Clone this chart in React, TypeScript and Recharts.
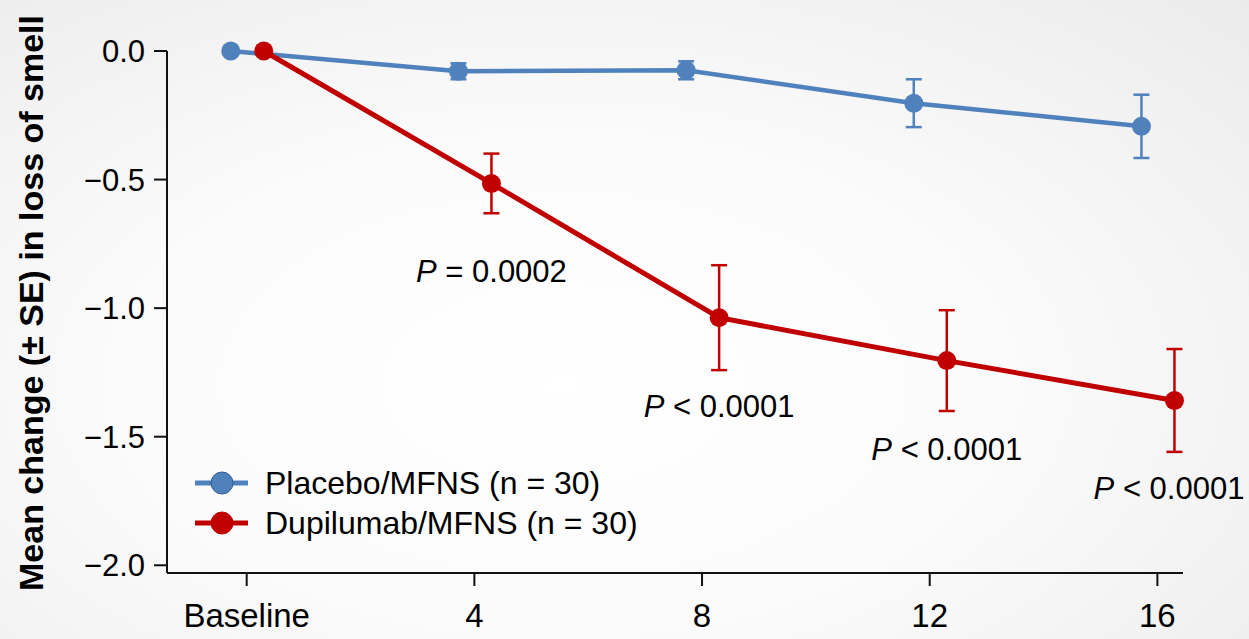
import { LineChart, Line, XAxis, YAxis, ErrorBar, LabelList, Legend } from 'recharts'

// weeks of treatment
const weeks = [0, 4, 8, 12, 16]
const xTicks = [0, 4, 8, 12, 16]
const yTicks = [0, -0.5, -1, -1.5, -2]

const placeboMean = [0, -0.079, -0.075, -0.203, -0.293]
const placeboSE = [0, 0.031, 0.035, 0.093, 0.123]

const dupiMean = [0, -0.515, -1.037, -1.204, -1.359]
const dupiSE = [0, 0.116, 0.204, 0.196, 0.2]
const dupiP = ['', '= 0.0002', '< 0.0001', '< 0.0001', '< 0.0001']

const BLUE = '#4F81BD'
const RED = '#C00000'
const FONT = '"Liberation Sans", Arial, sans-serif'
const W = 1249
const H = 639

const placeboData = weeks.map((w, i) => ({ x: w - 0.28, y: placeboMean[i], se: placeboSE[i] }))
const dupiData = weeks.map((w, i) => ({ x: w + 0.3, y: dupiMean[i], se: dupiSE[i], p: dupiP[i] }))

const fmtY = (v: number) => (v === 0 ? '0.0' : '\u2212' + Math.abs(v).toFixed(1))
const fmtX = (v: number) => (v === 0 ? 'Baseline' : String(v))

const PLabel = (props: any) => {
  const { x, y, value } = props
  if (!value) return null
  // keep the last label inside the picture
  const cx = Math.min(x, W - 80)
  return (
    <text x={cx} y={y + 99} textAnchor="middle" fontSize={31} fontFamily={FONT} fill="#000">
      <tspan fontStyle="italic">P</tspan>
      <tspan> {value}</tspan>
    </text>
  )
}

const legendItems = [
  { name: 'Placebo/MFNS (n = 30)', color: BLUE, edge: '#2f5d8e' },
  { name: 'Dupilumab/MFNS (n = 30)', color: RED, edge: RED },
]

const renderLegend = () => (
  <div style={{ fontFamily: FONT, fontSize: 32, color: '#000' }}>
    {legendItems.map((it) => (
      <div key={it.name} style={{ display: 'flex', alignItems: 'center', height: 40, lineHeight: '40px', whiteSpace: 'nowrap' }}>
        <svg width={57} height={30}>
          <line x1={2} y1={15} x2={55} y2={15} stroke={it.color} strokeWidth={5} />
          <circle cx={29} cy={15} r={11} fill={it.color} stroke={it.edge} strokeWidth={1} />
        </svg>
        <span style={{ marginLeft: 15 }}>{it.name}</span>
      </div>
    ))}
  </div>
)

export default function App() {
  return (
    <div
      style={{
        position: 'absolute',
        left: 0,
        top: 0,
        width: W,
        height: H,
        background: 'radial-gradient(ellipse at 45% 60%, #ffffff 0%, #fbfbfb 45%, #ebebeb 100%)',
      }}
    >
      <LineChart
        width={W}
        height={H}
        margin={{ top: 51, right: 66, bottom: 0, left: 0 }}
        style={{ fontFamily: FONT }}
      >
        <XAxis
          type="number"
          dataKey="x"
          domain={[-1.4, 16.45]}
          ticks={xTicks}
          tickFormatter={fmtX}
          allowDuplicatedCategory={false}
          height={66}
          stroke="#111"
          strokeWidth={2}
          tickSize={13}
          tickMargin={18}
          tick={{ fontSize: 33, fill: '#000', fontFamily: FONT }}
        />
        <YAxis
          type="number"
          domain={[-2.03, 0]}
          ticks={yTicks}
          tickFormatter={fmtY}
          width={167}
          stroke="#111"
          strokeWidth={2}
          tickSize={13}
          tickMargin={9}
          tick={{ fontSize: 31, fill: '#000', fontFamily: FONT }}
          label={{
            value: 'Mean change (\u00b1 SE) in loss of smell',
            angle: -90,
            position: 'insideLeft',
            offset: 0,
            dx: 31,
            dy: -9,
            style: { fontSize: 34, fontWeight: 'bold', fill: '#000', fontFamily: FONT, textAnchor: 'middle' },
          }}
        />
        <Legend
          content={renderLegend}
          layout="horizontal"
          verticalAlign="middle"
          align="center"
          wrapperStyle={{ left: 193, top: 463, width: 'auto' }}
        />
        <Line
          data={placeboData}
          dataKey="y"
          name="Placebo/MFNS (n = 30)"
          stroke={BLUE}
          strokeWidth={4.5}
          dot={{ r: 9.5, fill: BLUE, stroke: 'none' }}
          activeDot={false}
          isAnimationActive={false}
        >
          <ErrorBar dataKey="se" direction="y" width={8} stroke={BLUE} strokeWidth={2.5} isAnimationActive={false} />
        </Line>
        <Line
          data={dupiData}
          dataKey="y"
          name="Dupilumab/MFNS (n = 30)"
          stroke={RED}
          strokeWidth={5}
          dot={{ r: 9.5, fill: RED, stroke: 'none' }}
          activeDot={false}
          isAnimationActive={false}
        >
          <ErrorBar dataKey="se" direction="y" width={8} stroke={RED} strokeWidth={2.5} isAnimationActive={false} />
          <LabelList dataKey="p" content={<PLabel />} />
        </Line>
      </LineChart>
    </div>
  )
}
